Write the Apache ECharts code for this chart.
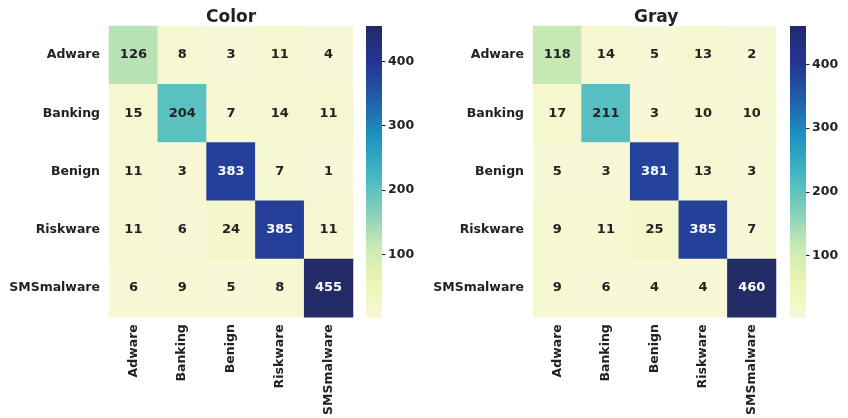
<!DOCTYPE html>
<html>
<head>
<meta charset="utf-8">
<script src="https://cdn.jsdelivr.net/npm/echarts@6/dist/echarts.min.js"></script>
<style>
  html, body { margin: 0; padding: 0; background: #fff; }
  #chart { width: 848px; height: 418px; }
</style>
</head>
<body>
<div id="chart"></div>
<script>
// class names (rows = true label, columns = predicted)
const classes = ['Adware', 'Banking', 'Benign', 'Riskware', 'SMSmalware'];

// confusion matrix, "Color" images
const colorMatrix = [
  [126, 8, 3, 11, 4],
  [15, 204, 7, 14, 11],
  [11, 3, 383, 7, 1],
  [11, 6, 24, 385, 11],
  [6, 9, 5, 8, 455]
];

// confusion matrix, "Gray" images
const grayMatrix = [
  [118, 14, 5, 13, 2],
  [17, 211, 3, 10, 10],
  [5, 3, 381, 13, 3],
  [9, 11, 25, 385, 7],
  [9, 6, 4, 4, 460]
];

const cbarTicks = [100, 200, 300, 400];

// YlGnBu, as it looks in the picture
const ylgnbu = ['#f8f8d8', '#ebf5b3', '#c7e9b4', '#7fcdbb', '#41b6c4', '#1d91c0', '#225ea8', '#253494', '#222b66'];

const FONT = 'DejaVu Sans';
const TXT = '#222';

function cells(m) {
  const out = [];
  m.forEach((row, i) => row.forEach((v, j) => {
    out.push({ value: [j, i, v], label: { color: v > 300 ? '#fff' : TXT } });
  }));
  return out;
}
function range(m) {
  const flat = m.flat();
  return [Math.min(...flat), Math.max(...flat)];
}

const [cMin, cMax] = range(colorMatrix);
const [gMin, gMax] = range(grayMatrix);

const gradient = new echarts.graphic.LinearGradient(0, 1, 0, 0,
  ylgnbu.map((c, i) => ({ offset: i / (ylgnbu.length - 1), color: c })));

const labelStyle = { fontFamily: FONT, fontWeight: 'bold', fontSize: 12.5, color: TXT };

function heatX(idx) {
  return {
    type: 'category', gridIndex: idx, data: classes, position: 'bottom',
    axisLine: { show: false }, axisTick: { show: false }, splitLine: { show: false },
    axisLabel: Object.assign({ rotate: 90, margin: 7, interval: 0 }, labelStyle)
  };
}
function heatY(idx) {
  return {
    type: 'category', gridIndex: idx, data: classes, inverse: true,
    axisLine: { show: false }, axisTick: { show: false }, splitLine: { show: false },
    axisLabel: Object.assign({ margin: 9, interval: 0 }, labelStyle)
  };
}
function cbarX(idx) {
  return { type: 'category', gridIndex: idx, data: [''], show: false };
}
function cbarY(idx, mn, mx) {
  return {
    type: 'value', gridIndex: idx, min: mn, max: mx, position: 'right',
    axisLine: { show: false }, splitLine: { show: false },
    axisTick: { show: true, length: 3.5, customValues: cbarTicks, lineStyle: { color: TXT, width: 1 } },
    axisLabel: Object.assign({ margin: 6, customValues: cbarTicks }, labelStyle)
  };
}
function heatSeries(idx, m) {
  return {
    type: 'heatmap', xAxisIndex: idx, yAxisIndex: idx, data: cells(m),
    label: { show: true, fontFamily: FONT, fontWeight: 'bold', fontSize: 13, formatter: p => p.value[2] },
    itemStyle: { borderWidth: 0 },
    emphasis: { disabled: true }
  };
}
function cbarSeries(idx, mx) {
  return {
    type: 'bar', xAxisIndex: idx, yAxisIndex: idx, data: [mx], barWidth: '100%',
    itemStyle: { color: gradient }, silent: true, clip: true
  };
}

const chart = echarts.init(document.getElementById('chart'));
chart.setOption({
  backgroundColor: '#fff',
  animation: false,
  title: [
    { text: 'Color', left: 201, top: 4,
      textStyle: { fontFamily: FONT, fontWeight: 'bold', fontSize: 17, color: TXT } },
    { text: 'Gray', left: 629, top: 4,
      textStyle: { fontFamily: FONT, fontWeight: 'bold', fontSize: 17, color: TXT } }
  ],
  grid: [
    { left: 109, top: 26, width: 244, height: 292 },
    { left: 366, top: 26, width: 16, height: 292 },
    { left: 533, top: 26, width: 243, height: 292 },
    { left: 790, top: 26, width: 16, height: 292 }
  ],
  xAxis: [heatX(0), cbarX(1), heatX(2), cbarX(3)],
  yAxis: [heatY(0), cbarY(1, cMin, cMax), heatY(2), cbarY(3, gMin, gMax)],
  visualMap: [
    { show: false, seriesIndex: 0, dimension: 2, min: cMin, max: cMax, inRange: { color: ylgnbu } },
    { show: false, seriesIndex: 2, dimension: 2, min: gMin, max: gMax, inRange: { color: ylgnbu } }
  ],
  series: [
    heatSeries(0, colorMatrix),
    cbarSeries(1, cMax),
    heatSeries(2, grayMatrix),
    cbarSeries(3, gMax)
  ]
});
</script>
</body>
</html>
